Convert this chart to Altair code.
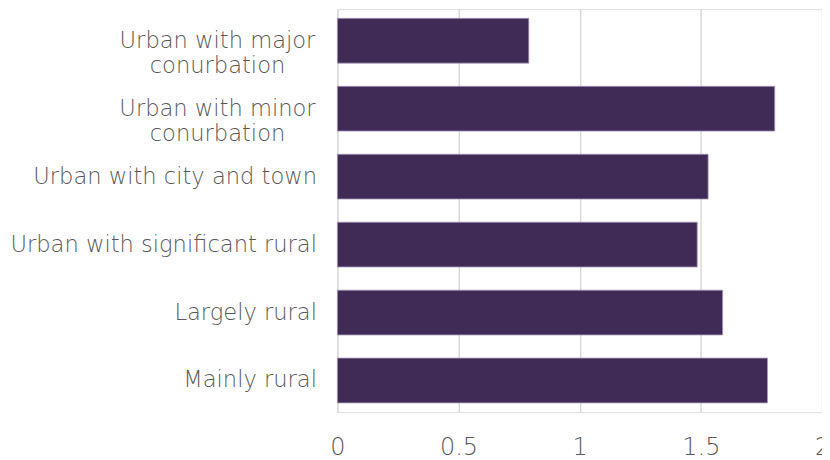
import altair as alt
import pandas as pd

categories = [
    "Urban with major conurbation",
    "Urban with minor conurbation",
    "Urban with city and town",
    "Urban with significant rural",
    "Largely rural",
    "Mainly rural",
]
values = [0.79, 1.805, 1.53, 1.485, 1.59, 1.775]
x_ticks = [0, 0.5, 1, 1.5, 2]

df = pd.DataFrame({"category": categories, "value": values})

wrap_test = "indexof(datum.label, 'conurbation') >= 0"

chart = (
    alt.Chart(df)
    .mark_bar(color="#402B56", stroke="#A898BC", strokeWidth=0.8)
    .encode(
        x=alt.X(
            "value:Q",
            scale=alt.Scale(domain=[0, 2], nice=False, zero=True),
            axis=alt.Axis(
                values=x_ticks,
                format="~g",
                title=None,
                domain=False,
                ticks=False,
                grid=True,
                gridColor="#D9D9D9",
                gridWidth=1.5,
                labelFont="DejaVu Sans",
                labelFontWeight=200,
                labelFontSize=24,
                labelColor="#595959",
                labelPadding=24,
                labelFlush=False,
            ),
        ),
        y=alt.Y(
            "category:N",
            sort=categories,
            scale=alt.Scale(paddingInner=0.341, paddingOuter=0.136),
            axis=alt.Axis(
                title=None,
                domain=False,
                ticks=False,
                grid=False,
                labelFont="DejaVu Sans",
                labelFontWeight=200,
                labelFontSize=22.7,
                labelColor="#595959",
                labelLineHeight=25,
                labelLimit=400,
                labelExpr="indexof(datum.label, 'conurbation') >= 0 ? [replace(datum.label, ' conurbation', ''), 'conurbation'] : datum.label",
                labelAlign={"condition": {"test": wrap_test, "value": "center"}, "value": "right"},
                labelPadding={"condition": {"test": wrap_test, "value": 121}, "value": 21},
            ),
        ),
    )
    .properties(
        width=487,
        height=405,
        autosize=alt.AutoSizeParams(type="none"),
        padding={"left": 331, "top": 0, "right": 0, "bottom": 52},
    )
    .configure_view(stroke=None)
    .configure(background="white")
)

chart.save("out.html", embed_options={"renderer": "svg", "actions": False})
